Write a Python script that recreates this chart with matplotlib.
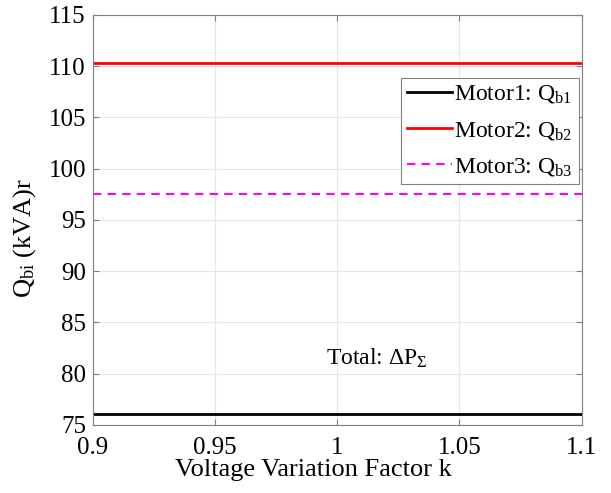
import numpy as np
import matplotlib
matplotlib.use('Agg')
import matplotlib.pyplot as plt

plt.rcParams['font.family'] = ['Liberation Serif', 'DejaVu Serif']
plt.rcParams['mathtext.fontset'] = 'custom'
plt.rcParams['mathtext.rm'] = 'Liberation Serif'
plt.rcParams['mathtext.it'] = 'Liberation Serif:italic'

# data
k = [0.9, 1.1]
q_motor1 = [76.1, 76.1]
q_motor2 = [110.3, 110.3]
q_motor3 = [97.5, 97.5]
labels = [r'Motor1: Q$_{\rm b1}$', r'Motor2: Q$_{\rm b2}$', r'Motor3: Q$_{\rm b3}$']
xticks = [0.9, 0.95, 1.0, 1.05, 1.1]
xticklabels = ['0.9', '0.95', '1', '1.05', '1.1']
yticks = [75, 80, 85, 90, 95, 100, 105, 110, 115]

fig = plt.figure(figsize=(6.11, 4.93), dpi=100)
ax = fig.add_axes([0.152, 0.138, 0.8, 0.832])

ax.plot(k, q_motor1, color='black', lw=2, label=labels[0])
ax.plot(k, q_motor2, color='#ff0000', lw=2, label=labels[1])
ax.plot(k, q_motor3, color='#ff00ff', lw=1.5, ls=(0, (4, 3)), label=labels[2])

ax.set_xlim(0.9, 1.1)
ax.set_ylim(75, 115)
ax.set_xticks(xticks)
ax.set_xticklabels(xticklabels)
ax.set_yticks(yticks)
ax.tick_params(direction='in', labelsize=18, color='#808080', length=4,
               top=True, right=True)
ax.tick_params(axis='y', pad=5)
ax.tick_params(axis='x', pad=9)
ax.grid(True, color='#e6e6e6', lw=0.8)
for s in ax.spines.values():
    s.set_color('#808080')
    s.set_linewidth(0.8)

ax.set_xlabel('Voltage Variation Factor k', fontsize=19, labelpad=0)
ax.xaxis.set_label_coords(0.452, -0.082)
ax.set_ylabel(r'Q$_{\rm bi}$ (kVA)r', fontsize=19)
ax.yaxis.set_label_coords(-0.113, 0.455)

ax.text(0.9955, 81.5, r'Total: $\Delta$P$_{\Sigma}$', fontsize=17, va='center', ha='left')

leg = ax.legend(loc='upper right', bbox_to_anchor=(0.994, 0.847), borderaxespad=0,
                fontsize=17, handlelength=1.9, handletextpad=0.1, fancybox=False,
                framealpha=1, edgecolor='#808080', borderpad=0.25, labelspacing=0.6)
leg.get_frame().set_linewidth(0.8)

fig.savefig('out.png', dpi=100)
